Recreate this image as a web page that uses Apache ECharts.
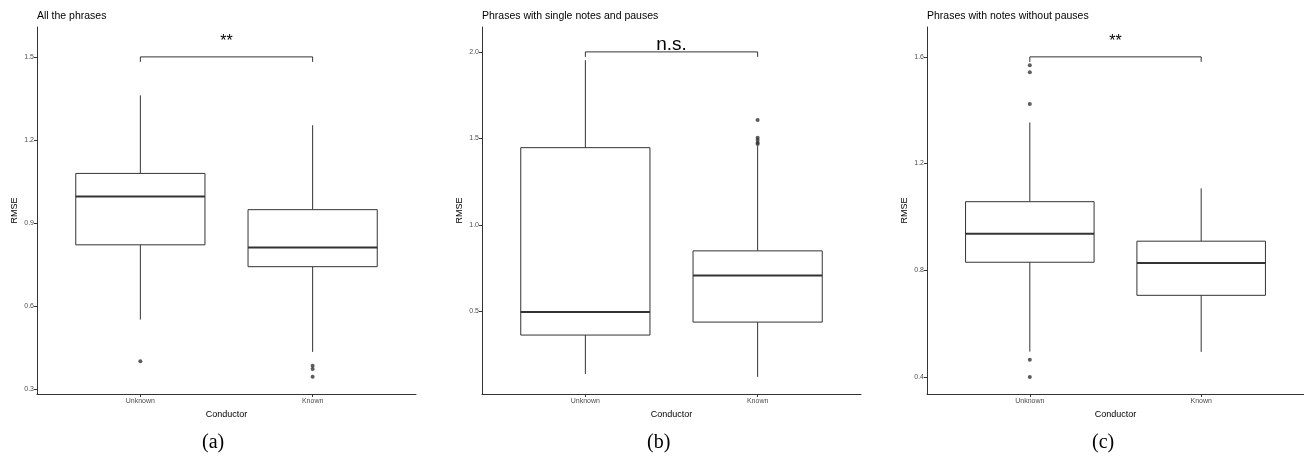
<!DOCTYPE html>
<html>
<head>
<meta charset="utf-8">
<script src="https://cdn.jsdelivr.net/npm/echarts@6/dist/echarts.min.js"></script>
<style>
  html, body { margin: 0; background: #fff; }
  #chart { width: 1304px; height: 464px; }
</style>
</head>
<body>
<div id="chart"></div>
<script>
// groups on the x axis
var categories = ['Unknown', 'Known'];
var titles = ['All the phrases', 'Phrases with single notes and pauses', 'Phrases with notes without pauses'];
var panelTags = ['(a)', '(b)', '(c)'];

// box stats: [low whisker, Q1, median, Q3, high whisker], one row per category
var boxA = [[0.551, 0.821, 0.996, 1.079, 1.361], [0.434, 0.742, 0.811, 0.948, 1.253]];
var boxB = [[0.137, 0.362, 0.495, 1.446, 1.952], [0.120, 0.437, 0.707, 0.849, 1.455]];
var boxC = [[0.495, 0.830, 0.937, 1.057, 1.354], [0.494, 0.706, 0.827, 0.909, 1.107]];

// outliers per category
var outA = [[0.400], [0.384, 0.372, 0.344]];
var outB = [[], [1.606, 1.503, 1.490, 1.475, 1.467]];
var outC = [[1.569, 1.542, 1.423, 0.464, 0.400], []];

// y ticks and ranges
var ticksA = [0.3, 0.6, 0.9, 1.2, 1.5];
var ticksB = [0.5, 1.0, 1.5, 2.0];
var ticksC = [0.4, 0.8, 1.2, 1.6];
var rangeA = [0.282, 1.608];
var rangeB = [0.021, 2.144];
var rangeC = [0.336, 1.712];

// significance brackets
var signifText = ['**', 'n.s.', '**'];
var bracketY = [1.5, 2.0, 1.6];

var panels = [
  { box: boxA, out: outA, ticks: ticksA, range: rangeA, left: 37 },
  { box: boxB, out: outB, ticks: ticksB, range: rangeB, left: 482 },
  { box: boxC, out: outC, ticks: ticksC, range: rangeC, left: 927 }
];

var ink = '#333333';
var font = 'Liberation Sans';

function boxItem(params, api) {
  var x = api.value(0);
  var lo = api.coord([x, api.value(1)]);
  var q1 = api.coord([x, api.value(2)]);
  var md = api.coord([x, api.value(3)]);
  var q3 = api.coord([x, api.value(4)]);
  var hi = api.coord([x, api.value(5)]);
  var l = api.coord([x - 0.375, 0])[0];
  var r = api.coord([x + 0.375, 0])[0];
  var line = { stroke: ink, lineWidth: 1, fill: null };
  return {
    type: 'group',
    children: [
      { type: 'line', shape: { x1: hi[0], y1: hi[1], x2: q3[0], y2: q3[1] }, style: line },
      { type: 'line', shape: { x1: q1[0], y1: q1[1], x2: lo[0], y2: lo[1] }, style: line },
      { type: 'rect', shape: { x: l, y: q3[1], width: r - l, height: q1[1] - q3[1] }, style: { stroke: ink, lineWidth: 1, fill: '#fff' } },
      { type: 'line', shape: { x1: l, y1: md[1], x2: r, y2: md[1] }, style: { stroke: ink, lineWidth: 2 } }
    ]
  };
}

function bracketItem(params, api) {
  var a = api.coord([api.value(0), api.value(2)]);
  var b = api.coord([api.value(1), api.value(2)]);
  var i = params.seriesIndex;
  var txt = signifText[Math.floor(i / 3)];
  var ns = txt === 'n.s.';
  return {
    type: 'group',
    children: [
      { type: 'polyline', shape: { points: [[a[0], a[1] + 5], [a[0], a[1]], [b[0], b[1]], [b[0], b[1] + 5]] },
        style: { stroke: ink, lineWidth: 1, fill: null } },
      { type: 'text', style: {
          text: txt, x: (a[0] + b[0]) / 2, y: ns ? a[1] + 2 : a[1] - 7,
          align: 'center', verticalAlign: 'bottom',
          fontSize: ns ? 19 : 16, fontFamily: font, fill: '#000'
      } }
    ]
  };
}

var grid = [], xAxis = [], yAxis = [], series = [], title = [], graphic = [];
panels.forEach(function (p, i) {
  grid.push({ left: p.left, top: 27, width: 379, height: 367 });
  title.push({
    text: titles[i], left: p.left - 5, top: 6,
    textStyle: { fontSize: 10.5, fontWeight: 'normal', color: '#000', fontFamily: font }
  });
  xAxis.push({
    gridIndex: i, type: 'value', min: 0.4, max: 2.6,
    name: 'Conductor', nameLocation: 'middle', nameGap: 14,
    nameTextStyle: { fontSize: 9, color: '#000', fontFamily: font },
    axisLine: { lineStyle: { color: ink, width: 1 } },
    axisTick: { show: true, customValues: [1, 2], length: 3, lineStyle: { color: ink } },
    axisLabel: { customValues: [1, 2], fontSize: 7, color: '#4d4d4d', margin: 4, fontFamily: font,
      formatter: function (v) { return categories[Math.round(v) - 1]; } },
    splitLine: { show: false }
  });
  yAxis.push({
    gridIndex: i, type: 'value', min: p.range[0], max: p.range[1],
    name: 'RMSE', nameLocation: 'middle', nameGap: 18,
    nameTextStyle: { fontSize: 9, color: '#000', fontFamily: font },
    axisLine: { show: true, lineStyle: { color: ink, width: 1 } },
    axisTick: { show: true, customValues: p.ticks, length: 3, lineStyle: { color: ink } },
    axisLabel: { customValues: p.ticks, fontSize: 7, color: '#4d4d4d', margin: 3, fontFamily: font,
      formatter: function (v) { return v.toFixed(1); } },
    splitLine: { show: false }
  });
  series.push({
    type: 'custom', xAxisIndex: i, yAxisIndex: i, renderItem: boxItem,
    data: p.box.map(function (b, k) { return [k + 1].concat(b); })
  });
  var pts = [];
  p.out.forEach(function (arr, k) { arr.forEach(function (v) { pts.push([k + 1, v]); }); });
  series.push({
    type: 'scatter', xAxisIndex: i, yAxisIndex: i, data: pts,
    symbolSize: 4, itemStyle: { color: ink }, silent: true
  });
  series.push({
    type: 'custom', xAxisIndex: i, yAxisIndex: i, renderItem: bracketItem,
    data: [[1, 2, bracketY[i]]]
  });
  graphic.push({
    type: 'text', left: p.left + 177 - 12, top: 433,
    style: { text: panelTags[i], fontSize: 20, fontFamily: 'Liberation Serif', fill: '#000' }
  });
});

var chart = echarts.init(document.getElementById('chart'));
chart.setOption({
  animation: false,
  backgroundColor: '#fff',
  title: title,
  grid: grid,
  xAxis: xAxis,
  yAxis: yAxis,
  series: series,
  graphic: graphic
});
</script>
</body>
</html>
